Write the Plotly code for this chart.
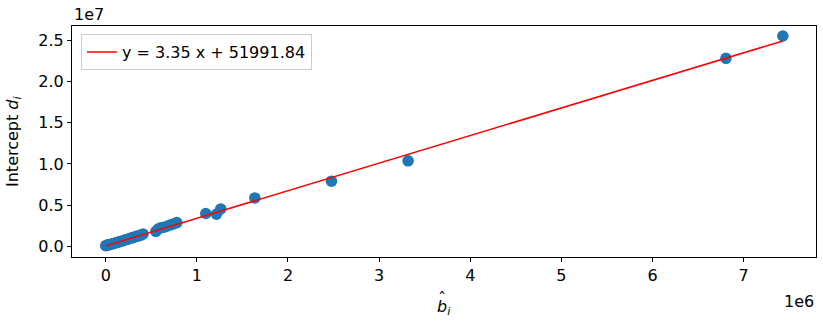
import plotly.graph_objects as go

# Data (x = b_hat_i, y = intercept d_i)
b_hat = [0.000e6, 0.010e6, 0.020e6, 0.035e6, 0.050e6, 0.070e6, 0.090e6, 0.110e6,
         0.130e6, 0.150e6, 0.170e6, 0.190e6, 0.210e6, 0.230e6, 0.250e6, 0.270e6,
         0.290e6, 0.310e6, 0.330e6, 0.350e6, 0.370e6, 0.390e6, 0.410e6,
         0.550e6, 0.575e6, 0.605e6, 0.640e6, 0.680e6, 0.715e6, 0.750e6, 0.780e6,
         1.098e6, 1.215e6, 1.262e6, 1.636e6, 2.477e6, 3.318e6, 6.806e6, 7.430e6]
d_i = [0.008e7, 0.012e7, 0.015e7, 0.020e7, 0.022e7, 0.030e7, 0.035e7, 0.042e7,
       0.048e7, 0.055e7, 0.062e7, 0.068e7, 0.076e7, 0.082e7, 0.090e7, 0.098e7,
       0.103e7, 0.110e7, 0.118e7, 0.124e7, 0.130e7, 0.138e7, 0.150e7,
       0.180e7, 0.210e7, 0.225e7, 0.232e7, 0.246e7, 0.262e7, 0.275e7, 0.288e7,
       0.398e7, 0.389e7, 0.454e7, 0.588e7, 0.791e7, 1.038e7, 2.283e7, 2.555e7]
slope = 3.35
intercept = 51991.84

x_ticks = [0, 1e6, 2e6, 3e6, 4e6, 5e6, 6e6, 7e6]
x_tick_text = ["0", "1", "2", "3", "4", "5", "6", "7"]
y_ticks = [0, 0.5e7, 1.0e7, 1.5e7, 2.0e7, 2.5e7]
y_tick_text = ["0.0", "0.5", "1.0", "1.5", "2.0", "2.5"]

font = "DejaVu Sans"
fs = 16

fig = go.Figure()
fig.add_trace(go.Scatter(
    x=b_hat, y=d_i, mode="markers",
    marker=dict(color="#1f77b4", size=11.5, line=dict(width=0)),
    showlegend=False,
))
x_min, x_max = min(b_hat), max(b_hat)
fig.add_trace(go.Scatter(
    x=[x_min, x_max], y=[slope * x_min + intercept, slope * x_max + intercept],
    mode="lines", line=dict(color="red", width=1.5),
    name=f"y = {slope:.2f} x + {intercept:.2f}",
))

axis_common = dict(
    showgrid=False, zeroline=False, showline=True, linecolor="black", linewidth=1,
    mirror=True, ticks="outside", ticklen=4, tickcolor="black", tickwidth=1,
    tickfont=dict(family=font, size=fs, color="black"),
)
fig.update_xaxes(range=[-0.37e6, 7.794e6], tickmode="array", tickvals=x_ticks,
                 ticktext=x_tick_text, **axis_common)
fig.update_yaxes(range=[-0.13e7, 2.676e7], tickmode="array", tickvals=y_ticks,
                 ticktext=y_tick_text, **axis_common)

fig.update_layout(
    width=823, height=323,
    margin=dict(l=72, r=7, t=26, b=66),
    paper_bgcolor="white", plot_bgcolor="white",
    font=dict(family=font, size=fs, color="black"),
    legend=dict(x=0.012, y=0.965, xanchor="left", yanchor="top",
                bgcolor="rgba(255,255,255,0.8)", bordercolor="#cccccc", borderwidth=1,
                font=dict(family=font, size=fs, color="black")),
    annotations=[
        dict(text="1e7", xref="paper", yref="paper", x=0.0, y=1.0, xanchor="left",
             yanchor="bottom", yshift=0, showarrow=False, font=dict(family=font, size=fs)),
        dict(text="1e6", xref="paper", yref="paper", x=1.0, y=0, xanchor="right",
             yanchor="top", yshift=-33, showarrow=False, font=dict(family=font, size=fs)),
        dict(text="<i>b<sub>i</sub></i>", xref="paper", yref="paper", x=0.5, y=0,
             xanchor="center", yanchor="top", yshift=-38, showarrow=False,
             font=dict(family=font, size=fs)),
        dict(text="ˆ", xref="paper", yref="paper", x=0.5, y=0,
             xanchor="center", yanchor="top", yshift=-30, xshift=-2, showarrow=False,
             font=dict(family=font, size=fs)),
        dict(text="Intercept <i>d<sub>i</sub></i>", xref="paper", yref="paper",
             x=0, y=0.5, xanchor="right", yanchor="middle", xshift=-46, textangle=-90,
             showarrow=False, font=dict(family=font, size=fs)),
    ],
)

fig.write_html("out.html")
